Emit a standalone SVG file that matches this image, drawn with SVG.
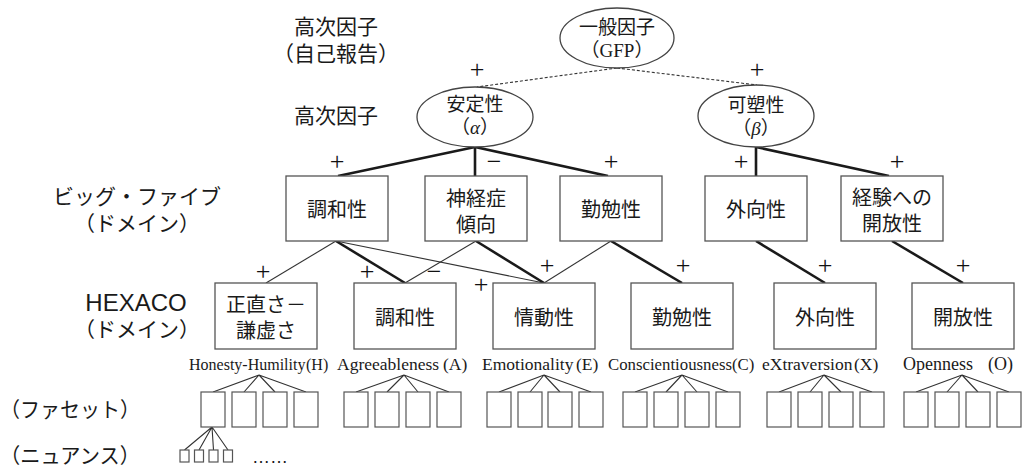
<svg xmlns="http://www.w3.org/2000/svg" width="1024" height="468" viewBox="0 0 1024 468">
<style>
text{font-family:"Liberation Sans","Noto Sans CJK JP",sans-serif;fill:#1a1a1a;dominant-baseline:central;text-anchor:middle}
.lbl{font-size:21px}
.hex{font-size:24px}
.bt{font-size:20px}
.et{font-size:19px}
.en{font-family:"Liberation Serif",serif;font-size:17.5px;text-anchor:start}
.sg{font-family:"Liberation Serif",serif;font-size:26px;fill:#111}
.box{fill:#fff;stroke:#555;stroke-width:1.3}
.fb{fill:#fff;stroke:#555;stroke-width:1.2}
.ell{fill:#fff;stroke:#444;stroke-width:1.3}
.thick{stroke:#1a1a1a;stroke-width:2.6;fill:none}
.thin{stroke:#333;stroke-width:1.1;fill:none}
.dash{stroke:#333;stroke-width:1.1;stroke-dasharray:3 2;fill:none}
.fan{stroke:#333;stroke-width:1.1;fill:none}
</style>

<g id="level-labels">
<text class="lbl" x="336" y="26">高次因子</text>
<text class="lbl" x="336" y="53">（自己報告）</text>
<text class="lbl" x="336" y="115">高次因子</text>
<text class="lbl" x="137" y="196">ビッグ・ファイブ</text>
<text class="lbl" x="137" y="223">（ドメイン）</text>
<text class="hex" x="136" y="302">HEXACO</text>
<text class="lbl" x="137" y="329">（ドメイン）</text>
<text class="lbl" x="0" y="409" style="text-anchor:start" textLength="140" lengthAdjust="spacingAndGlyphs">（ファセット）</text>
<text class="lbl" x="0" y="455" style="text-anchor:start" textLength="140" lengthAdjust="spacingAndGlyphs">（ニュアンス）</text>
</g>

<g id="connectors">
<line class="dash" x1="617" y1="68" x2="477" y2="87"/>
<line class="dash" x1="617" y1="68" x2="757" y2="85"/>
<line class="thick" x1="475" y1="147" x2="338" y2="176"/>
<line class="thick" x1="475" y1="147" x2="475" y2="176"/>
<line class="thick" x1="475" y1="147" x2="608" y2="176"/>
<line class="thick" x1="756" y1="147" x2="756" y2="176"/>
<line class="thick" x1="756" y1="147" x2="889" y2="176"/>
<line class="thin" x1="336" y1="241" x2="266" y2="283"/>
<line class="thick" x1="336" y1="241" x2="405" y2="283"/>
<line class="thin" x1="336" y1="241" x2="544" y2="283"/>
<line class="thin" x1="476" y1="241" x2="405" y2="283"/>
<line class="thick" x1="476" y1="241" x2="544" y2="283"/>
<line class="thin" x1="611" y1="241" x2="544" y2="283"/>
<line class="thick" x1="611" y1="241" x2="682" y2="283"/>
<line class="thick" x1="756" y1="241" x2="825" y2="283"/>
<line class="thick" x1="892" y1="241" x2="963" y2="283"/>
<path class="fan" d="M259,375L213,392M259,375L244,392M259,375L275,392M259,375L306,392"/>
<path class="fan" d="M404,375L356,392M404,375L387,392M404,375L418,392M404,375L449,392"/>
<path class="fan" d="M544,375L499,392M544,375L530,392M544,375L560,392M544,375L591,392"/>
<path class="fan" d="M682,375L635,392M682,375L666,392M682,375L697,392M682,375L728,392"/>
<path class="fan" d="M824,375L779,392M824,375L810,392M824,375L841,392M824,375L872,392"/>
<path class="fan" d="M962,375L916,392M962,375L947,392M962,375L978,392M962,375L1009,392"/>
<path class="fan" d="M212,427L184.5,450M212,427L199,450M212,427L213.5,450M212,427L228,450"/>
</g>

<g id="signs">
<text class="sg" x="477" y="69">+</text>
<text class="sg" x="757" y="69">+</text>
<text class="sg" x="337" y="161">+</text>
<text class="sg" x="494" y="161">−</text>
<text class="sg" x="611" y="161">+</text>
<text class="sg" x="741" y="161">+</text>
<text class="sg" x="897" y="161">+</text>
<text class="sg" x="263" y="271">+</text>
<text class="sg" x="367" y="271">+</text>
<text class="sg" x="434" y="271">−</text>
<text class="sg" x="481" y="284">+</text>
<text class="sg" x="547" y="265">+</text>
<text class="sg" x="683" y="265">+</text>
<text class="sg" x="825" y="265">+</text>
<text class="sg" x="963" y="265">+</text>
</g>

<g id="gfp">
<ellipse class="ell" cx="617" cy="38" rx="57" ry="30"/>
<text class="et" x="617" y="27">一般因子</text>
<text class="et" x="617" y="50">（<tspan font-family="Liberation Serif">GFP</tspan>）</text>
</g>
<g id="alpha">
<ellipse class="ell" cx="475" cy="117" rx="58" ry="30"/>
<text class="et" x="475" y="104">安定性</text>
<text class="et" x="475" y="127">（<tspan font-family="Liberation Serif" font-style="italic">α</tspan>）</text>
</g>
<g id="beta">
<ellipse class="ell" cx="756" cy="116" rx="58" ry="31"/>
<text class="et" x="756" y="105">可塑性</text>
<text class="et" x="756" y="128">（<tspan font-family="Liberation Serif" font-style="italic">β</tspan>）</text>
</g>

<g id="b5-agreeableness"><rect class="box" x="286" y="176" width="102" height="65"/><text class="bt" x="337" y="210">調和性</text></g>
<g id="b5-neuroticism"><rect class="box" x="425" y="176" width="102" height="65"/><text class="bt" x="476" y="199">神経症</text><text class="bt" x="476" y="225">傾向</text></g>
<g id="b5-conscientiousness"><rect class="box" x="560" y="176" width="102" height="65"/><text class="bt" x="611" y="210">勤勉性</text></g>
<g id="b5-extraversion"><rect class="box" x="705" y="176" width="102" height="65"/><text class="bt" x="756" y="210">外向性</text></g>
<g id="b5-openness"><rect class="box" x="841" y="176" width="102" height="65"/><text class="bt" x="892" y="198">経験への</text><text class="bt" x="892" y="224">開放性</text></g>

<g id="hx-h"><rect class="box" x="215" y="283" width="102" height="66"/><text class="bt" x="266" y="305">正直さ－</text><text class="bt" x="266" y="331">謙虚さ</text></g>
<g id="hx-a"><rect class="box" x="354" y="283" width="102" height="66"/><text class="bt" x="405" y="318">調和性</text></g>
<g id="hx-e"><rect class="box" x="493" y="283" width="102" height="66"/><text class="bt" x="544" y="318">情動性</text></g>
<g id="hx-c"><rect class="box" x="631" y="283" width="102" height="66"/><text class="bt" x="682" y="318">勤勉性</text></g>
<g id="hx-x"><rect class="box" x="774" y="283" width="102" height="66"/><text class="bt" x="825" y="318">外向性</text></g>
<g id="hx-o"><rect class="box" x="912" y="283" width="102" height="66"/><text class="bt" x="963" y="318">開放性</text></g>

<g id="facet-labels">
<text class="en" x="189" y="364" style="font-size:16px">Honesty-Humility<tspan x="306">(H)</tspan></text>
<text class="en" x="337" y="364">Agreeableness<tspan x="443">(A)</tspan></text>
<text class="en" x="482" y="364">Emotionality<tspan x="576">(E)</tspan></text>
<text class="en" x="608" y="364" style="font-size:16.8px">Conscientiousness<tspan x="732">(C)</tspan></text>
<text class="en" x="762" y="364">eXtraversion<tspan x="854">(X)</tspan></text>
<text class="en" x="903" y="364" style="font-size:18px">Openness<tspan x="988">(O)</tspan></text>
</g>

<g id="facets-h"><rect class="fb" x="201" y="392" width="24" height="35"/><rect class="fb" x="232" y="392" width="24" height="35"/><rect class="fb" x="263" y="392" width="24" height="35"/><rect class="fb" x="294" y="392" width="24" height="35"/></g>
<g id="facets-a"><rect class="fb" x="344" y="392" width="24" height="35"/><rect class="fb" x="375" y="392" width="24" height="35"/><rect class="fb" x="406" y="392" width="24" height="35"/><rect class="fb" x="437" y="392" width="24" height="35"/></g>
<g id="facets-e"><rect class="fb" x="487" y="392" width="24" height="35"/><rect class="fb" x="518" y="392" width="24" height="35"/><rect class="fb" x="548" y="392" width="24" height="35"/><rect class="fb" x="579" y="392" width="24" height="35"/></g>
<g id="facets-c"><rect class="fb" x="623" y="392" width="24" height="35"/><rect class="fb" x="654" y="392" width="24" height="35"/><rect class="fb" x="685" y="392" width="24" height="35"/><rect class="fb" x="716" y="392" width="24" height="35"/></g>
<g id="facets-x"><rect class="fb" x="767" y="392" width="24" height="35"/><rect class="fb" x="798" y="392" width="24" height="35"/><rect class="fb" x="829" y="392" width="24" height="35"/><rect class="fb" x="860" y="392" width="24" height="35"/></g>
<g id="facets-o"><rect class="fb" x="904" y="392" width="24" height="35"/><rect class="fb" x="935" y="392" width="24" height="35"/><rect class="fb" x="966" y="392" width="24" height="35"/><rect class="fb" x="997" y="392" width="24" height="35"/></g>

<g id="nuances">
<rect class="fb" x="180" y="450" width="9" height="12"/>
<rect class="fb" x="194.5" y="450" width="9" height="12"/>
<rect class="fb" x="209" y="450" width="9" height="12"/>
<rect class="fb" x="223.5" y="450" width="9" height="12"/>
<text x="270" y="457" font-size="18">……</text>
</g>
</svg>
